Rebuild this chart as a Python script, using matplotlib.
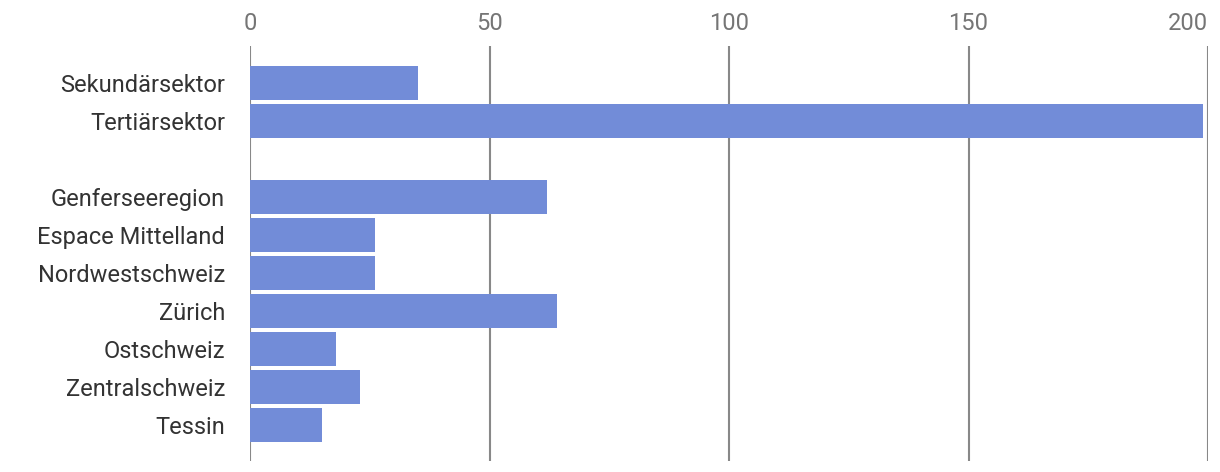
import matplotlib.pyplot as plt

plt.rcParams['font.family'] = ['Roboto', 'DejaVu Sans']

# Kategorien (leerer Eintrag = Abstand zwischen den Gruppen)
categories = ["Sekundärsektor", "Tertiärsektor", "",
              "Genferseeregion", "Espace Mittelland", "Nordwestschweiz",
              "Zürich", "Ostschweiz", "Zentralschweiz", "Tessin"]
values = [35, 199, 0, 62, 26, 26, 64, 18, 23, 15]
xticks = [0, 50, 100, 150, 200]

fig = plt.figure(figsize=(12.2, 4.72), dpi=100)
ax = fig.add_axes([250 / 1220, 1 - 461 / 472, (1208 - 250) / 1220, (461 - 46) / 472])

pos = list(range(len(categories)))
ax.barh(pos, values, height=0.887, color="#728cd8", zorder=3)

ax.set_xlim(0, 200)
ax.set_ylim(9.955, -0.966)
ax.set_xticks(xticks)
ax.xaxis.tick_top()
ax.tick_params(axis='x', length=0, pad=8, labelsize=17, labelcolor="#757575")
# letzte Beschriftung rechtsbündig, damit sie im Bild bleibt
ax.get_xticklabels()[-1].set_horizontalalignment('right')
ax.set_yticks(pos)
ax.set_yticklabels(categories)
ax.tick_params(axis='y', length=0, pad=18, labelsize=17, labelcolor="#333333")

ax.grid(axis='x', color="#888888", linewidth=1.5, zorder=1)
for s in ax.spines.values():
    s.set_visible(False)

fig.savefig("out.png", dpi=100)
